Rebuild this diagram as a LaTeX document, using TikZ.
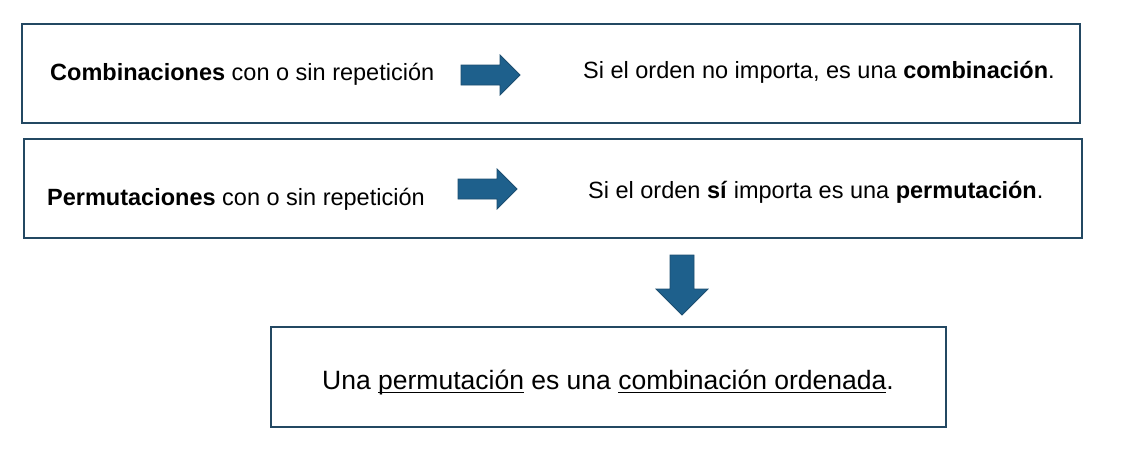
\documentclass[tikz,border=0pt]{standalone}
\usepackage{fontspec}
\setmainfont{Liberation Sans}
\newcommand\myul[1]{\setbox0\hbox{#1}\rlap{\rule[-4pt]{\wd0}{1pt}}\box0\relax}
\begin{document}
\begin{tikzpicture}[x=1pt,y=-1pt,
  box/.style={draw=boxc, line width=2.2pt},
  arr/.style={fill=arrf, draw=arrd, line width=0.8pt, line join=miter},
  txt/.style={font=\fontsize{23.5}{28}\selectfont, inner sep=0pt, anchor=west},
  ]
\definecolor{boxc}{RGB}{35,72,98}
\definecolor{arrf}{RGB}{30,96,140}
\definecolor{arrd}{RGB}{28,78,112}
\useasboundingbox (0,0) rectangle (1123,456);
\fill[white] (0,0) rectangle (1123,456);
% boxes
\draw[box] (22,24) rectangle (1080,123);
\draw[box] (24,139) rectangle (1082,238);
\draw[box] (271,327) rectangle (946,427);
% texts
\node[txt] (c1) at (50,74) {\textbf{Combinaciones} con o sin repetición};
\node[txt] (c2) at (583,72) {Si el orden no importa, es una \textbf{combinación}.};
\node[txt] (p1) at (47,199) {\textbf{Permutaciones} con o sin repetición};
\node[txt] (p2) at (588,192) {Si el orden \textbf{sí} importa es una \textbf{permutación}.};
\node[txt, font=\fontsize{26.5}{31}\selectfont] (u) at (322,382) {Una \myul{permutación} es una \myul{combinación ordenada}.};
% arrows
\draw[arr] (461,65) -- (500,65) -- (500,55) -- (520,75) -- (500,95) -- (500,85) -- (461,85) -- cycle;
\draw[arr] (458,179) -- (497,179) -- (497,169) -- (517,189) -- (497,209) -- (497,199) -- (458,199) -- cycle;
\draw[arr] (670,255) -- (694,255) -- (694,289) -- (708,289) -- (682,315) -- (656,289) -- (670,289) -- cycle;
\end{tikzpicture}
\end{document}
